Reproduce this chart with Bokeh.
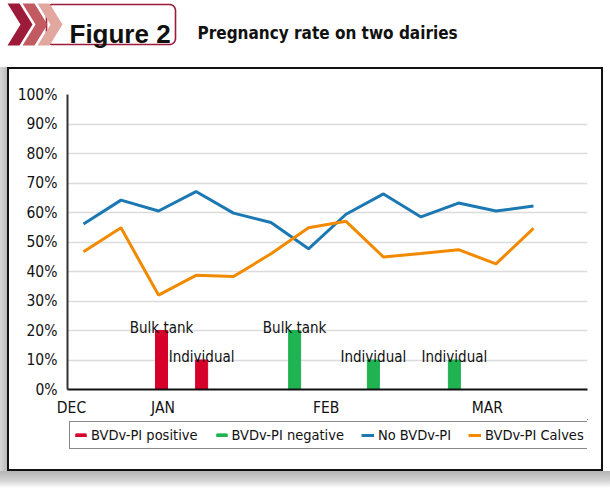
import numpy as np
from bokeh.plotting import figure
from bokeh.layouts import column, row
from bokeh.models import (Range1d, FixedTicker, PrintfTickFormatter, Legend, LegendItem,
                          Spacer)
from bokeh.embed import file_html
from bokeh.resources import INLINE
from bokeh.core.properties import value

# ---- data -------------------------------------------------------------
week = list(range(13))
no_bvd_pi = [56.1, 64.2, 60.5, 67.1, 59.8, 56.6, 47.7, 59.4, 66.3, 58.5, 63.2, 60.5, 62.2]
pi_calves = [46.7, 54.8, 32.0, 38.7, 38.3, 46.0, 54.8, 57.0, 44.9, 46.1, 47.4, 42.6, 54.6]

pos_week = [2.08, 3.15]
pos_rate = [20, 10]
pos_test = ["Bulk tank", "Individual"]

neg_week = [5.63, 7.73, 9.89]
neg_rate = [20, 10, 10]
neg_test = ["Bulk tank", "Individual", "Individual"]

month_pos = [-0.32, 2.12, 6.47, 10.77]
month_names = ["DEC", "JAN", "FEB", "MAR"]
pct_ticks = list(range(0, 101, 10))

series_names = ["BVDv-PI positive", "BVDv-PI negative", "No BVDv-PI", "BVDv-PI Calves"]

# ---- styling ----------------------------------------------------------
FONT = "'DejaVu Sans Condensed', Roboto, sans-serif"
RED, GREEN, BLUE, ORANGE = "#d6002b", "#1fb352", "#1b78b3", "#f28a00"
INK = "#111111"

# ---- header strip: chevrons, badge and heading ------------------------
hdr = figure(width=610, height=67, x_range=Range1d(0, 610), y_range=Range1d(67, 0),
             min_border=0, toolbar_location=None, output_backend="svg",
             outline_line_color=None, x_axis_location=None, y_axis_location=None)
hdr.grid.visible = False


def rounded_rect(x0, y0, x1, y1, r, n=8):
    xs, ys = [], []
    for cx, cy, a0 in [(x1 - r, y0 + r, -90), (x1 - r, y1 - r, 0),
                       (x0 + r, y1 - r, 90), (x0 + r, y0 + r, 180)]:
        a = np.radians(np.linspace(a0, a0 + 90, n))
        xs += list(cx + r * np.cos(a))
        ys += list(cy + r * np.sin(a))
    return xs, ys


bx, by = rounded_rect(46, 4, 175, 44, 6)
hdr.patch(bx, by, fill_color="white", line_color="#9e1a3a", line_width=1.6)
chev_x, chev_y, chev_c = [], [], []
for x0, col in [(7, "#9e1a3a"), (22, "#c25a62"), (37, "#e2a89f")]:
    chev_x.append([x0, x0 + 12, x0 + 25, x0 + 12, x0, x0 + 13])
    chev_y.append([3, 3, 24, 45, 45, 24])
    chev_c.append(col)
hdr.patches(chev_x, chev_y, fill_color=chev_c, line_color=None)
hdr.text(x=[69], y=[33], text=["Figure 2"], text_font=value("Liberation Sans"),
         text_font_style="bold", text_font_size="26px", text_color=INK,
         text_baseline="alphabetic")
hdr.text(x=[197], y=[32], text=["Pregnancy rate on two dairies"], text_font=value(FONT),
         text_font_style="bold", text_font_size="17px", text_color=INK,
         text_baseline="alphabetic")

# ---- chart ------------------------------------------------------------
PW, CH, LH = 592, 350, 50
p = figure(width=PW, height=CH, output_backend="svg", toolbar_location=None,
           x_range=Range1d(-0.427, 13.44), y_range=Range1d(0, 100),
           min_border_left=58, min_border_right=14, min_border_top=25, min_border_bottom=30,
           outline_line_color=None)

p.vbar(x=pos_week, top=pos_rate, width=0.32, fill_color=RED, line_color=RED)
p.vbar(x=neg_week, top=neg_rate, width=0.32, fill_color=GREEN, line_color=GREEN)
p.line(week, no_bvd_pi, line_color=BLUE, line_width=3)
p.line(week, pi_calves, line_color=ORANGE, line_width=3)

for xs_, ys_, ts_ in [(pos_week, pos_rate, pos_test), (neg_week, neg_rate, neg_test)]:
    p.text(x=xs_, y=ys_, text=ts_, text_align="center", text_baseline="alphabetic",
           y_offset=-3, text_font=value(FONT), text_font_size="15px", text_color=INK)

p.xgrid.visible = False
p.ygrid.ticker = FixedTicker(ticks=pct_ticks)
p.ygrid.grid_line_color = "#dcdcdc"
p.ygrid.grid_line_width = 1.5

p.yaxis.ticker = FixedTicker(ticks=pct_ticks)
p.yaxis.formatter = PrintfTickFormatter(format="%d%%")
p.xaxis.ticker = FixedTicker(ticks=month_pos)
p.xaxis.major_label_overrides = {v: n for v, n in zip(month_pos, month_names)}

for ax in (p.xaxis, p.yaxis):
    ax.major_tick_out = 0
    ax.major_tick_in = 0
    ax.minor_tick_out = 0
    ax.minor_tick_in = 0
    ax.major_label_text_font = FONT
    ax.major_label_text_font_size = "15.5px"
    ax.major_label_text_color = INK
p.yaxis.major_label_standoff = 10
p.xaxis.major_label_standoff = 9
p.xaxis.axis_line_color = INK
p.xaxis.axis_line_width = 2
p.yaxis.axis_line_color = "#333333"
p.yaxis.axis_line_width = 2

# ---- legend strip under the chart ------------------------------------
# the same series are drawn here outside the visible range, only as legend swatches
lg = figure(width=PW, height=LH, output_backend="svg", toolbar_location=None,
            x_range=Range1d(0, 1), y_range=Range1d(-2, -1), min_border=0,
            outline_line_color=None, x_axis_location=None, y_axis_location=None)
lg.grid.visible = False
swatches = [lg.vbar(x=pos_week, top=pos_rate, width=0.32, fill_color=RED, line_color=RED),
            lg.vbar(x=neg_week, top=neg_rate, width=0.32, fill_color=GREEN, line_color=GREEN),
            lg.line(week, no_bvd_pi, line_color=BLUE, line_width=3),
            lg.line(week, pi_calves, line_color=ORANGE, line_width=3)]
legend = Legend(items=[LegendItem(label=n, renderers=[r]) for n, r in zip(series_names, swatches)],
                location=(2, 20), orientation="horizontal",
                border_line_color=INK, border_line_width=1.5,
                background_fill_color="white", background_fill_alpha=1,
                label_text_font=FONT, label_text_font_size="14.5px",
                label_text_color=INK, label_height=18,
                glyph_width=13, glyph_height=4, label_standoff=4,
                spacing=17, padding=4, margin=0)
lg.add_layout(legend)


# ---- card frame with drop shadow -------------------------------------
def strip(w, h, css):
    return Spacer(width=w, height=h, styles={"background": css})


IH = CH + LH
card = column(strip(596, 2, INK),
              row(strip(2, IH, INK), column(p, lg), strip(2, IH, INK)),
              strip(596, 2, INK))
middle = row(strip(7, IH + 4, "linear-gradient(to right, #d6d6d6, #bcbcbc)"),
             card, strip(7, IH + 4, "#ffffff"))
bottom = strip(610, 17, "linear-gradient(to bottom, #b4b4b4, #d2d2d2 55%, #ffffff)")
page = column(hdr, middle, bottom)

open("out.html", "w").write(file_html(page, INLINE))
